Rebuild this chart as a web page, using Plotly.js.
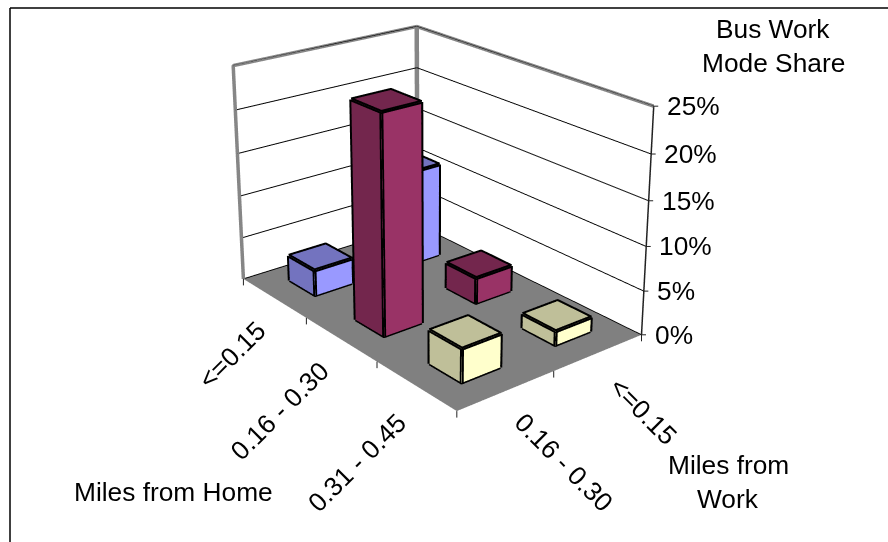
<!DOCTYPE html>
<html>
<head>
<meta charset="utf-8">
<script src="https://cdn.plot.ly/plotly-3.0.0.min.js"></script>
<style>
html,body{margin:0;width:888px;height:542px;overflow:hidden;background:#fff}
#chart{position:absolute;left:-22px;top:-470px;width:910px;height:1243px}
</style>
</head>
<body>
<div id="chart"></div>
<script>
// Bus work mode share by distance from home and from work.
const homeBands = ['<=0.15', '0.16 - 0.30', '0.31 - 0.45'];
const workBands = ['0.16 - 0.30', '<=0.15'];
const shareWorkFar = [3.1, 24.6, 3.8];
const shareWorkNear = [11.3, 3.1, 1.7];
const shareTicks = [0, 5, 10, 15, 20, 25];

const brightColors = ['#9999FF', '#993366', '#FFFFCC'];
const shadeColors = ['#7373BF', '#73264D', '#BFBF99'];
const FONT = {family: '"Liberation Sans", Arial, sans-serif', size: 26.3, color: '#000'};

// The canvas is larger than the window so the camera gets a long lens.
const W = 910, H = 1243, OX = 22, OY = 470;
const paperX = x => (x + OX) / W;
const paperY = y => 1 - (y + OY) / H;

const GAP = 0.3;
// Base outlines sit just above the floor so the floor does not hide them.
const LIFT = 0.08;
const traces = [];

function addColumn(ix, iy, h, bright, shade) {
  const x0 = ix + GAP, x1 = ix + 1 - GAP, y0 = iy + GAP, y1 = iy + 1 - GAP;
  traces.push({
    type: 'mesh3d',
    x: [x0, x1, x1, x0, x0, x1, x1, x0],
    y: [y0, y0, y1, y1, y0, y0, y1, y1],
    z: [0, 0, 0, 0, h, h, h, h],
    i: [0, 0, 4, 4, 0, 0, 1, 1, 2, 2, 3, 3],
    j: [1, 2, 5, 6, 1, 5, 2, 6, 3, 7, 0, 4],
    k: [2, 3, 6, 7, 5, 4, 6, 5, 7, 6, 4, 7],
    facecolor: [shade, shade, shade, shade, shade, shade, bright, bright, shade, shade, shade, shade],
    flatshading: true,
    lighting: {ambient: 1, diffuse: 0, specular: 0, roughness: 1, fresnel: 0},
    hoverinfo: 'skip', showscale: false
  });
  // Outline of the visible edges
  traces.push({
    type: 'scatter3d', mode: 'lines', hoverinfo: 'skip', showlegend: false,
    x: [x0, x1, x1, null, x0, x1, x1, x0, x0, null, x0, x0, null, x1, x1, null, x1, x1],
    y: [y0, y0, y1, null, y0, y0, y1, y1, y0, null, y0, y0, null, y0, y0, null, y1, y1],
    z: [LIFT, LIFT, LIFT, null, h, h, h, h, h, null, LIFT, h, null, LIFT, h, null, LIFT, h],
    line: {color: '#000', width: 8}
  });
}
homeBands.forEach((_, i) => {
  addColumn(i, 0, shareWorkFar[i], brightColors[i], shadeColors[i]);
  addColumn(i, 1, shareWorkNear[i], brightColors[i], shadeColors[i]);
});

const xMax = homeBands.length, yMax = workBands.length, zMax = shareTicks[shareTicks.length - 1];

// Wall frame in grey, value axis in near black
traces.push({
  type: 'scatter3d', mode: 'lines', hoverinfo: 'skip', showlegend: false,
  x: [0, 0, 0, xMax], y: [0, 0, yMax, yMax], z: [0, zMax, zMax, zMax],
  line: {color: '#868686', width: 7}
});
traces.push({
  type: 'scatter3d', mode: 'lines', hoverinfo: 'skip', showlegend: false,
  x: [0, 0], y: [yMax, yMax], z: [0, zMax],
  line: {color: '#868686', width: 9}
});
traces.push({
  type: 'scatter3d', mode: 'lines', hoverinfo: 'skip', showlegend: false,
  x: [xMax, xMax], y: [yMax, yMax], z: [0, zMax],
  line: {color: '#222', width: 3}
});

const label = (x, y, z, text, extra) => Object.assign(
  {x, y, z, text, showarrow: false, font: FONT, xanchor: 'center', yanchor: 'middle'}, extra);
const tick = (x, y, z, ax, ay) => ({x, y, z, text: '', showarrow: true, arrowhead: 0, arrowwidth: 1, arrowcolor: '#222', ax, ay});

const sceneNotes = [];
const homeShift = [[-42, 57], [-61, 72], [-59, 77]];
homeBands.forEach((t, i) => sceneNotes.push(label(i + 0.5, 0, 0, t, {textangle: -45, xshift: homeShift[i][0], yshift: -homeShift[i][1]})));
const workShift = [[58, 72], [44, 59]];
workBands.forEach((t, i) => sceneNotes.push(label(xMax, i + 0.5, 0, t, {textangle: 45, xshift: workShift[i][0], yshift: -workShift[i][1]})));
shareTicks.forEach(v => {
  sceneNotes.push(label(xMax, yMax, v, v + '%', {xanchor: 'left', xshift: 11}));
  sceneNotes.push(tick(xMax, yMax, v, 6, 0));
});
for (let i = 0; i <= xMax; i++) sceneNotes.push(tick(i, 0, 0, 0, 8));
for (let j = 1; j <= yMax; j++) sceneNotes.push(tick(xMax, j, 0, 0, 8));

const pageNote = (x, y, text) => ({xref: 'paper', yref: 'paper', x: paperX(x), y: paperY(y), text, showarrow: false, font: FONT, xanchor: 'center', yanchor: 'middle'});

const hiddenAxis = {showgrid: false, zeroline: false, showline: false, showticklabels: false, ticks: '', showspikes: false, showbackground: false, title: {text: ''}};

Plotly.newPlot('chart', traces, {
  width: W, height: H,
  margin: {l: 0, r: 0, t: 0, b: 0},
  paper_bgcolor: '#fff',
  showlegend: false,
  scene: {
    domain: {x: [0, 1], y: [0, 1]},
    aspectmode: 'manual',
    aspectratio: {x: 1, y: 0.663, z: 0.6658},
    camera: {
      eye: {x: 3.0355, y: -2.4473, z: 1.5737},
      center: {x: -0.0073, y: 0, z: 0.1379},
      up: {x: 0, y: 0, z: 1},
      projection: {type: 'perspective'}
    },
    xaxis: Object.assign({}, hiddenAxis, {range: [0, xMax]}),
    yaxis: Object.assign({}, hiddenAxis, {range: [0, yMax]}),
    zaxis: Object.assign({}, hiddenAxis, {
      range: [0, zMax], tickvals: shareTicks,
      showgrid: true, gridcolor: '#000', gridwidth: 2,
      showbackground: true, backgroundcolor: '#808080'
    }),
    annotations: sceneNotes
  },
  annotations: [
    pageNote(773, 29, 'Bus Work'),
    pageNote(773, 63, 'Mode Share'),
    pageNote(173, 492, 'Miles from Home'),
    pageNote(728, 465, 'Miles from'),
    pageNote(728, 499, 'Work')
  ],
  shapes: [
    {type: 'line', xref: 'paper', yref: 'paper', x0: paperX(10), x1: paperX(888), y0: paperY(8), y1: paperY(8), line: {color: '#000', width: 1.5}},
    {type: 'line', xref: 'paper', yref: 'paper', x0: paperX(10), x1: paperX(10), y0: paperY(8), y1: paperY(542), line: {color: '#000', width: 1.5}}
  ]
}, {displayModeBar: false});
</script>
</body>
</html>
